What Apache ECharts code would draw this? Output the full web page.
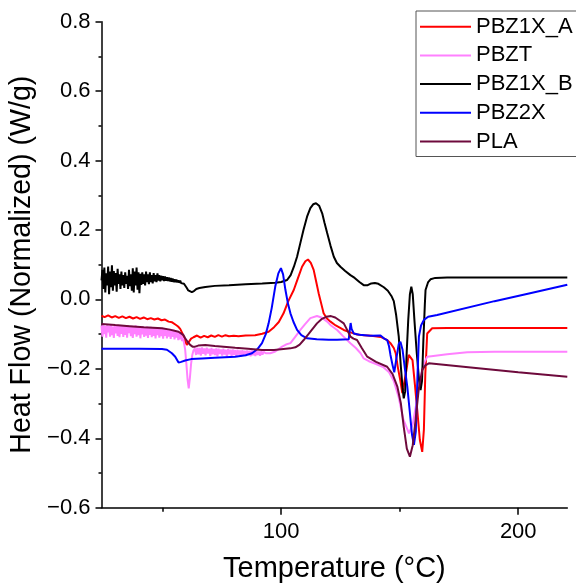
<!DOCTYPE html>
<html>
<head>
<meta charset="utf-8">
<script src="https://cdn.jsdelivr.net/npm/echarts@6/dist/echarts.min.js"></script>
<style>
html,body{margin:0;padding:0;background:#fff;}
#chart{width:576px;height:584px;}
</style>
</head>
<body>
<div id="chart"></div>
<script>
// ---- Data (temperature °C, heat flow W/g) ----
const seriesNames = ['PBZ1X_A', 'PBZT', 'PBZ1X_B', 'PBZ2X', 'PLA'];
const seriesColors = ['#ff0000', '#ff80ff', '#000000', '#0000ff', '#6e0a3c'];

const pbz1xA = [
[24.2,-0.047],[25.5,-0.051],[27,-0.046],[28.5,-0.052],[30,-0.048],[31.5,-0.053],[33,-0.049],[34.5,-0.054],[36,-0.05],[37.5,-0.055],
[39,-0.051],[40.5,-0.056],[42,-0.052],[43.5,-0.057],[45,-0.054],[46.5,-0.058],[48,-0.055],[49.5,-0.06],[51,-0.058],[52.5,-0.064],
[54,-0.066],[55.5,-0.073],[56.5,-0.078],[57.4,-0.085],[58.5,-0.1],[59.5,-0.12],[60.2,-0.131],[61,-0.126],[62,-0.113],[63,-0.109],
[64.5,-0.104],[66,-0.11],[67.5,-0.105],[69,-0.109],[70.5,-0.104],[72,-0.108],[73.5,-0.103],[75,-0.107],[76.5,-0.103],[78,-0.106],
[80,-0.105],[82,-0.106],[85,-0.104],[89,-0.103],[92,-0.099],[94.7,-0.093],[97,-0.08],[99,-0.065],[101,-0.04],[103,-0.005],
[105.3,0.027],[107,0.06],[108.8,0.094],[110.2,0.11],[111.3,0.115],[112.5,0.105],[113.7,0.085],[114.8,0.05],[115.8,0.018],[117,-0.015],
[117.9,-0.04],[119.3,-0.055],[120.8,-0.064],[123,-0.075],[126.4,-0.088],[129.2,-0.095],[132,-0.101],[134.8,-0.103],[138,-0.105],[141.9,-0.108],
[143.3,-0.112],[144.7,-0.117],[146.1,-0.126],[147.5,-0.14],[148.3,-0.155],[149.2,-0.195],[150.3,-0.235],[151.1,-0.27],[151.8,-0.265],[152.8,-0.205],
[153.8,-0.16],[154.6,-0.155],[155.4,-0.175],[156.4,-0.245],[157.4,-0.319],[158.5,-0.405],[159.5,-0.439],[160.2,-0.375],[160.8,-0.215],[161.6,-0.098],
[163.7,-0.083],[170,-0.082],[190,-0.082],[220.7,-0.082]
];

const pbzt = [
[24.2,-0.075],[24.6,-0.107],[25.0,-0.073],[25.4,-0.1],[25.8,-0.077],[26.2,-0.11],[26.6,-0.074],[27.0,-0.095],[27.4,-0.076],[27.8,-0.107],
[28.2,-0.072],[28.6,-0.103],[29.0,-0.078],[29.4,-0.111],[29.8,-0.075],[30.2,-0.098],[30.6,-0.074],[31.0,-0.105],[31.4,-0.077],[31.8,-0.109],
[32.2,-0.075],[32.6,-0.099],[33.0,-0.076],[33.4,-0.108],[33.8,-0.074],[34.2,-0.102],[34.6,-0.078],[35.0,-0.11],[35.4,-0.075],[35.8,-0.097],
[36.2,-0.077],[36.6,-0.106],[37.0,-0.076],[37.4,-0.111],[37.8,-0.078],[38.2,-0.1],[38.6,-0.075],[39.0,-0.107],[39.4,-0.079],[39.8,-0.103],
[40.2,-0.077],[40.6,-0.112],[41.0,-0.079],[41.4,-0.101],[41.8,-0.078],[42.2,-0.108],[42.6,-0.08],[43.0,-0.104],[43.4,-0.078],[43.8,-0.111],
[44.2,-0.081],[44.6,-0.102],[45.0,-0.079],[45.4,-0.109],[45.8,-0.082],[46.2,-0.105],[46.6,-0.08],[47.0,-0.112],[47.4,-0.083],[47.8,-0.103],
[48.2,-0.081],[48.6,-0.11],[49.0,-0.084],[49.4,-0.106],[49.8,-0.082],[50.2,-0.113],[50.6,-0.085],[51.0,-0.105],[51.4,-0.083],[51.8,-0.112],
[52.2,-0.086],[52.6,-0.107],[53.0,-0.085],[53.4,-0.114],[53.8,-0.087],[54.2,-0.108],[54.6,-0.087],[55.0,-0.115],[55.4,-0.089],[55.8,-0.11],
[56.2,-0.091],[56.6,-0.117],[57.0,-0.095],[57.4,-0.115],[57.8,-0.1],[58.2,-0.12],[58.6,-0.11],[59.0,-0.125],[59.5,-0.145],[60.0,-0.185],
[60.5,-0.23],[61.0,-0.256],[61.5,-0.225],[62.0,-0.185],[62.5,-0.16],[63.0,-0.147],[63.6,-0.141],[64.1,-0.16],[64.6,-0.139],[65.1,-0.158],
[65.6,-0.14],[66.1,-0.162],[66.6,-0.138],[67.1,-0.157],[67.6,-0.141],[68.1,-0.161],[68.6,-0.139],[69.1,-0.156],[69.6,-0.142],[70.1,-0.163],
[70.6,-0.14],[71.1,-0.158],[71.6,-0.143],[72.1,-0.16],[72.6,-0.141],[73.1,-0.164],[73.6,-0.142],[74.1,-0.157],[74.6,-0.144],[75.1,-0.162],
[75.6,-0.142],[76.1,-0.159],[76.6,-0.145],[77.1,-0.165],[77.6,-0.143],[78.1,-0.158],[78.6,-0.145],[79.1,-0.163],[79.6,-0.144],[80.1,-0.16],
[80.6,-0.146],[81.1,-0.164],[81.6,-0.145],[82.1,-0.159],[82.6,-0.147],[83.1,-0.165],[83.6,-0.146],[84.1,-0.161],[84.6,-0.148],[85.1,-0.163],
[85.6,-0.147],[86.1,-0.16],[86.6,-0.148],[87.1,-0.164],[87.6,-0.147],[88.1,-0.161],[88.6,-0.149],[89.1,-0.163],[89.6,-0.148],[90.1,-0.16],
[90.6,-0.15],[91.1,-0.162],[91.6,-0.149],[92.1,-0.159],[92.6,-0.151],[93.5,-0.155],[95.4,-0.155],[97.5,-0.15],[100.4,-0.136],[102,-0.13],
[103.9,-0.126],[106,-0.107],[108.1,-0.088],[110,-0.072],[112.3,-0.054],[115.1,-0.048],[117,-0.052],[119.4,-0.064],[121,-0.075],[123.6,-0.088],
[126,-0.105],[129.2,-0.126],[131.5,-0.14],[133.5,-0.155],[134.8,-0.17],[137,-0.178],[140,-0.186],[143,-0.195],[145.5,-0.21],[147.5,-0.235],
[149.5,-0.28],[151.5,-0.345],[153.9,-0.386],[155.5,-0.36],[157,-0.3],[158.3,-0.245],[159.5,-0.203],[160.5,-0.18],[161.6,-0.165],[165,-0.162],
[170,-0.158],[178.5,-0.152],[190,-0.151],[205,-0.151],[220.7,-0.151]
];

const pbz1xB = [
[24.2,0.055],[24.6,0.085],[25.0,0.03],[25.4,0.092],[25.8,0.02],[26.2,0.075],[26.6,0.04],[27.0,0.095],[27.4,0.015],[27.8,0.08],
[28.2,0.035],[28.6,0.098],[29.0,0.025],[29.4,0.082],[29.8,0.04],[30.2,0.076],[30.6,0.022],[31.0,0.088],[31.4,0.045],[31.8,0.072],
[32.2,0.03],[32.6,0.08],[33.0,0.04],[33.4,0.07],[33.8,0.033],[34.2,0.078],[34.6,0.045],[35.0,0.068],[35.4,0.03],[35.8,0.085],
[36.2,0.038],[36.6,0.072],[37.0,0.025],[37.4,0.09],[37.8,0.02],[38.2,0.08],[38.6,0.04],[39.0,0.092],[39.4,0.028],[39.8,0.078],
[40.2,0.018],[40.6,0.074],[41.0,0.042],[41.4,0.078],[41.8,0.045],[42.2,0.072],[42.6,0.04],[43.0,0.08],[43.4,0.05],[43.8,0.072],
[44.2,0.044],[44.6,0.078],[45.0,0.05],[45.4,0.07],[45.8,0.046],[46.2,0.076],[46.6,0.052],[47.0,0.07],[47.4,0.05],[47.8,0.075],
[48.2,0.054],[48.6,0.07],[49.0,0.052],[49.4,0.068],[49.8,0.055],[50.2,0.067],[50.6,0.053],[51.0,0.066],[51.4,0.054],[51.8,0.064],
[52.2,0.053],[52.6,0.063],[53.0,0.052],[53.4,0.062],[53.8,0.051],[54.2,0.06],[54.6,0.05],[55.0,0.058],[55.4,0.05],[55.8,0.057],
[56.2,0.049],[56.6,0.055],[57.0,0.048],[57.4,0.054],[57.8,0.047],[58.2,0.052],[58.6,0.046],[59.0,0.045],[59.6,0.04],[60.2,0.033],
[60.8,0.026],[61.5,0.022],[62.3,0.021],[63.2,0.024],[64.2,0.03],[65.5,0.033],[68,0.036],[72,0.039],[78,0.041],[85,0.044],
[92,0.046],[97.5,0.048],[100,0.05],[102.5,0.056],[104,0.07],[105.4,0.095],[106.7,0.123],[108,0.16],[109.4,0.2],[111,0.24],
[112.3,0.263],[113.5,0.274],[114.7,0.277],[116,0.27],[117.3,0.248],[118.3,0.22],[119.4,0.191],[120.8,0.155],[122.2,0.123],[123.5,0.105],
[125,0.094],[127,0.082],[129.2,0.07],[131,0.062],[133,0.05],[134.8,0.041],[136.5,0.041],[138,0.046],[139.5,0.047],[141,0.045],
[143.3,0.035],[145,0.025],[146.5,0.01],[147.5,-0.005],[148.5,-0.045],[149.6,-0.107],[150.5,-0.195],[151.2,-0.255],[151.7,-0.285],[152.3,-0.265],
[153,-0.145],[153.6,-0.059],[154.3,0.015],[154.9,0.037],[155.5,0.015],[156.2,-0.059],[157.2,-0.155],[158.2,-0.235],[158.8,-0.261],[159.4,-0.235],
[160,-0.115],[160.6,-0.015],[160.9,0.027],[162,0.05],[163,0.058],[165,0.062],[170,0.063],[190,0.063],[220.7,0.063]
];

const pbz2x = [
[24.2,-0.142],[30,-0.142],[40,-0.142],[49.7,-0.143],[51.8,-0.145],[53.9,-0.155],[55.3,-0.165],[56.7,-0.182],[57.8,-0.18],[59.5,-0.176],
[62,-0.172],[66.6,-0.17],[72,-0.168],[80.6,-0.165],[85,-0.161],[87.7,-0.155],[90,-0.143],[91.9,-0.126],[93.5,-0.1],[94.7,-0.069],
[96,-0.025],[97.5,0.037],[98.8,0.075],[99.9,0.09],[100.8,0.072],[101.8,0.027],[102.8,-0.01],[103.9,-0.04],[105.2,-0.065],[106.7,-0.088],
[108.5,-0.103],[110.9,-0.112],[115,-0.115],[120,-0.116],[123.6,-0.116],[128.5,-0.115],[128.9,-0.09],[129.3,-0.068],[129.7,-0.085],[130.6,-0.098],
[133,-0.102],[137.7,-0.105],[141.9,-0.104],[143.3,-0.112],[144.7,-0.117],[145.5,-0.135],[146.1,-0.16],[147,-0.19],[147.7,-0.21],[148.6,-0.17],
[149.6,-0.128],[150.3,-0.122],[151.2,-0.145],[152.2,-0.2],[153.2,-0.251],[154.2,-0.32],[155.2,-0.39],[156,-0.419],[156.8,-0.38],[157.5,-0.22],
[158.1,-0.107],[159,-0.075],[160.2,-0.059],[162,-0.05],[165.8,-0.045],[190,-0.005],[205,0.018],[220.7,0.042]
];

const pla = [
[24.2,-0.071],[30,-0.074],[36,-0.077],[42,-0.08],[49.7,-0.083],[53,-0.087],[56.7,-0.093],[58.8,-0.103],[59.5,-0.112],[60.5,-0.122],
[61.6,-0.131],[62.6,-0.136],[63.7,-0.136],[65,-0.133],[68,-0.131],[72,-0.134],[80.6,-0.139],[86,-0.142],[91.9,-0.146],[97,-0.146],
[103.9,-0.141],[106,-0.138],[107.8,-0.13],[109.5,-0.117],[111.5,-0.1],[113,-0.087],[115.1,-0.069],[117,-0.057],[119,-0.05],[121,-0.048],
[122.8,-0.052],[124.5,-0.06],[126.4,-0.069],[128,-0.09],[129.2,-0.107],[130.5,-0.113],[132,-0.117],[134,-0.14],[136.3,-0.165],[140,-0.18],
[144.7,-0.194],[147,-0.215],[149,-0.251],[150.5,-0.3],[151.7,-0.367],[153,-0.43],[154.3,-0.453],[155.5,-0.42],[156.7,-0.347],[158,-0.26],
[159.5,-0.203],[160.8,-0.19],[162.3,-0.184],[180,-0.196],[200,-0.21],[220.7,-0.223]
];

const xMajorTicks = [100, 200];
const xMinorTicks = [50, 150];
const xRange = [24.2, 220.7];
const yRange = [-0.6, 0.8];
const yStep = 0.2;

const FONT = "'Liberation Sans', Arial, sans-serif";
const allData = [pbz1xA, pbzt, pbz1xB, pbz2x, pla];

const chart = echarts.init(document.getElementById('chart'), null, {renderer: 'canvas'});
chart.setOption({
  animation: false,
  backgroundColor: '#ffffff',
  grid: {left: 101.5, right: 8.7, top: 21.7, bottom: 76.3, containLabel: false, outerBoundsMode: 'none'},
  legend: {
    data: seriesNames,
    orient: 'vertical',
    left: 416, top: 11,
    padding: [4.7, 4, 4, 4],
    icon: 'rect',
    itemWidth: 51, itemHeight: 2, itemGap: 6.7,
    borderColor: '#555555', borderWidth: 1,
    backgroundColor: '#ffffff',
    textStyle: {fontFamily: FONT, fontSize: 22, color: '#000', lineHeight: 22}
  },
  xAxis: [{
    type: 'value', min: xRange[0], max: xRange[1],
    position: 'bottom',
    name: 'Temperature (°C)', nameLocation: 'middle', nameGap: 47,
    nameTextStyle: {fontFamily: FONT, fontSize: 29, color: '#000'},
    axisLine: {show: true, onZero: false, lineStyle: {color: '#000', width: 1.5}},
    axisTick: {show: true, customValues: xMajorTicks, length: 7, lineStyle: {color: '#000', width: 1.5}},
    axisLabel: {customValues: xMajorTicks, fontFamily: FONT, fontSize: 22, color: '#000', margin: 13},
    splitLine: {show: false}
  }, {
    type: 'value', min: xRange[0], max: xRange[1],
    position: 'bottom', gridIndex: 0,
    axisLine: {show: false, onZero: false},
    axisTick: {show: true, customValues: xMinorTicks, length: 4, lineStyle: {color: '#000', width: 1.5}},
    axisLabel: {show: false},
    splitLine: {show: false}
  }],
  yAxis: {
    type: 'value', min: yRange[0], max: yRange[1], interval: yStep,
    name: 'Heat Flow (Normalized) (W/g)', nameLocation: 'middle', nameGap: 62,
    nameTextStyle: {fontFamily: FONT, fontSize: 28.6, color: '#000'},
    axisLine: {show: true, onZero: false, lineStyle: {color: '#000', width: 1.5}},
    axisTick: {show: true, length: 6, lineStyle: {color: '#000', width: 1.5}},
    minorTick: {show: true, splitNumber: 2, length: 3, lineStyle: {color: '#000', width: 1.5}},
    axisLabel: {
      fontFamily: FONT, fontSize: 22, color: '#000', margin: 11,
      formatter: v => { const s = Math.abs(v).toFixed(1); return (v < -1e-9 ? '\u2212' : '') + s; }
    },
    splitLine: {show: false}
  },
  series: seriesNames.map((n, i) => ({
    name: n, type: 'line', xAxisIndex: 0, data: allData[i],
    symbol: 'none', showSymbol: false, smooth: false,
    lineStyle: {color: seriesColors[i], width: 2},
    itemStyle: {color: seriesColors[i]}
  }))
});
</script>
</body>
</html>
